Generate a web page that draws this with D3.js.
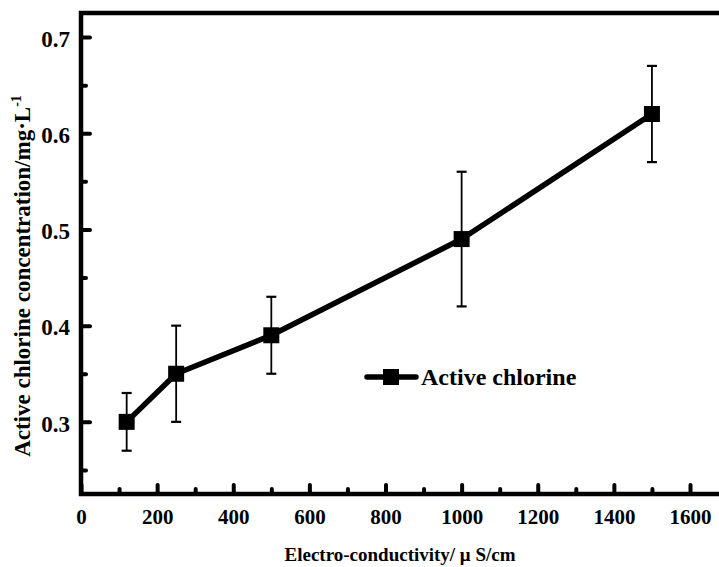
<!DOCTYPE html>
<html><head><meta charset="utf-8">
<script src="https://cdn.jsdelivr.net/npm/d3@7"></script>
<style>body{margin:0;background:#fff}svg{display:block}text{font-family:"Liberation Serif","Times New Roman",serif;font-weight:bold;fill:#000}</style>
</head><body>
<svg id="c" width="719" height="567"></svg>
<script>
const conductivity = [120, 250, 500, 1000, 1500];
const chlorine = [0.30, 0.35, 0.39, 0.49, 0.62];
const errors = [0.03, 0.05, 0.04, 0.07, 0.05];
const xTicks = [0, 200, 400, 600, 800, 1000, 1200, 1400, 1600];
const xMinor = [100, 300, 500, 700, 900, 1100, 1300, 1500];
const yTicks = [0.3, 0.4, 0.5, 0.6, 0.7];
const yMinor = [0.25, 0.35, 0.45, 0.55, 0.65];
const seriesName = "Active chlorine";

const svg = d3.select("#c");
const L = 81, T = 13, B = 494;
const x = d3.scaleLinear().domain([0, 1700]).range([L, L + 1700 * 609 / 1600]);
const y = d3.scaleLinear().domain([0.225, 0.725]).range([B, T]);

// frame
svg.append("rect").attr("x", L).attr("y", T).attr("width", x(1700) - L).attr("height", B - T)
  .attr("fill", "none").attr("stroke", "#000").attr("stroke-width", 4.5);

// x axis ticks
const gx = svg.append("g").attr("transform", `translate(0,${B})`)
  .call(d3.axisBottom(x).tickValues(xTicks).tickSize(-9).tickPadding(15).tickFormat(d3.format("d")));
gx.select(".domain").remove();
gx.selectAll("line").attr("stroke-width", 4).attr("stroke-linecap", "round");
gx.attr("font-size", null).attr("font-family", null);
gx.selectAll("text").style("font-size", "21px");
svg.append("g").attr("transform", `translate(0,${B})`)
  .call(d3.axisBottom(x).tickValues(xMinor).tickSize(-5).tickFormat(""))
  .call(g => g.select(".domain").remove())
  .selectAll("line").attr("stroke-width", 4).attr("stroke-linecap", "round");

// y axis ticks
const gy = svg.append("g").attr("transform", `translate(${L},0)`)
  .call(d3.axisLeft(y).tickValues(yTicks).tickSize(-9).tickPadding(11).tickFormat(d3.format(".1f")));
gy.select(".domain").remove();
gy.selectAll("line").attr("stroke-width", 4).attr("stroke-linecap", "round");
gy.attr("font-size", null).attr("font-family", null);
gy.selectAll("text").style("font-size", "23px").attr("dy", "0.4em");
svg.append("g").attr("transform", `translate(${L},0)`)
  .call(d3.axisLeft(y).tickValues(yMinor).tickSize(-5).tickFormat(""))
  .call(g => g.select(".domain").remove())
  .selectAll("line").attr("stroke-width", 4).attr("stroke-linecap", "round");

const data = conductivity.map((c, i) => ({x: c, y: chlorine[i], e: errors[i]}));

// error bars
const eb = svg.append("g").attr("stroke", "#000").attr("stroke-width", 1.8);
data.forEach(d => {
  eb.append("line").attr("x1", x(d.x)).attr("x2", x(d.x)).attr("y1", y(d.y + d.e)).attr("y2", y(d.y - d.e));
  [d.y + d.e, d.y - d.e].forEach(v => eb.append("line").attr("x1", x(d.x) - 5).attr("x2", x(d.x) + 5).attr("y1", y(v)).attr("y2", y(v)).attr("stroke-width", 2.2));
});

// line
svg.append("path").datum(data).attr("fill", "none").attr("stroke", "#000").attr("stroke-width", 5.5)
  .attr("stroke-linejoin", "round")
  .attr("d", d3.line().x(d => x(d.x)).y(d => y(d.y)));

// markers
const s = 16;
svg.selectAll("rect.m").data(data).enter().append("rect").attr("class", "m")
  .attr("x", d => x(d.x) - s / 2).attr("y", d => y(d.y) - s / 2).attr("width", s).attr("height", s).attr("fill", "#000");

// legend
const lg = svg.append("g");
lg.append("line").attr("x1", 367).attr("x2", 416).attr("y1", 377).attr("y2", 377).attr("stroke", "#000").attr("stroke-width", 5.5).attr("stroke-linecap", "round");
lg.append("rect").attr("x", 391 - 8).attr("y", 377 - 8).attr("width", 16).attr("height", 16).attr("fill", "#000");
lg.append("text").attr("x", 421).attr("y", 385).style("font-size", "24px").text(seriesName);

// axis titles
svg.append("text").attr("x", 400).attr("y", 561).attr("text-anchor", "middle").style("font-size", "19px")
  .text("Electro-conductivity/ μ S/cm");
const yt = svg.append("text").attr("transform", "translate(30,276) rotate(-90)").attr("text-anchor", "middle").style("font-size", "23px");
yt.append("tspan").text("Active chlorine concentration/mg·L");
yt.append("tspan").attr("dy", -9).style("font-size", "14px").text("-1");
</script>
</body></html>
